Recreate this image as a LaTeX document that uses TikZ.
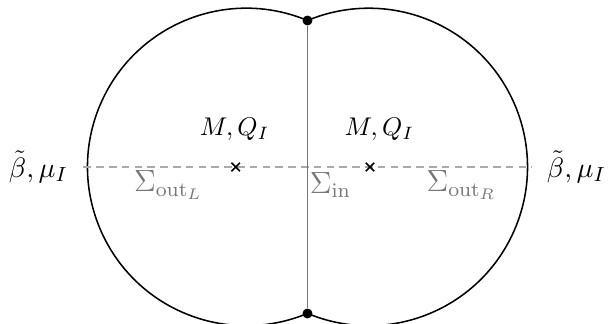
\documentclass[tikz,border=0pt]{standalone}
\usepackage{amsmath,amssymb}
\usepackage{tikz}
\usetikzlibrary{positioning,shapes.misc}
\usepackage{xcolor}
\definecolor{cutc}{RGB}{120,120,120}
\definecolor{dashc}{RGB}{170,170,170}

\begin{document}
\begin{tikzpicture}[
  x=0.3906pt, y=0.3906pt,
  bnd/.style={line width=0.6pt, draw=black},
  cut/.style={line width=0.7pt, draw=cutc},
  axisline/.style={dash pattern=on 3pt off 2pt, line width=0.6pt, draw=dashc},
  tip/.style={circle, fill=black, inner sep=0pt, minimum size=3.9pt},
  pole/.style={cross out, draw=black, line width=0.6pt, inner sep=0pt, minimum size=2.7pt},
  slab/.style={text=cutc, font=\large},
  elab/.style={font=\fontsize{11}{13}\selectfont},
]
\useasboundingbox (-307.5,-157) rectangle (307.5,167);

% ---- boundary of the two discs ----
\begin{scope}
  \clip (-307.5,-157) rectangle (307.5,167);
  \coordinate (top) at (0,146.5);
  \draw[bnd] (top) arc[start angle=67.3, end angle=292.7, radius=158.75]
    arc[start angle=247.3, end angle=472.7, radius=158.75];
\end{scope}

% ---- horizontal axis and poles ----
\coordinate (axL) at (-224.2,0);
\coordinate (axR) at (224.2,0);
\draw[axisline] (axL) -- (axR);
\node[pole] (pl) at (-71.8,0) {};
\node[pole] (pr) at (62.5,0) {};

% ---- inner cut with end points ----
\node[tip] (tt) at (0,146.5) {};
\node[tip] (tb) at (0,-146.5) {};
\draw[cut] (tt) -- (tb);

% ---- labels ----
\node[elab] (bl) at (-269,0) {$\tilde\beta,\mu_I$};
\node[elab] (br) at (269,0) {$\tilde\beta,\mu_I$};
\node (ml) at (-72.8,38) {$M,Q_I$};
\node (mr) at (71.8,38) {$M,Q_I$};
\node[slab] (sl) at (-139,-18) {$\Sigma_{\mathrm{out}_L}$};
\node[slab] (si) at (23,-18) {$\Sigma_{\mathrm{in}}$};
\node[slab] (sr) at (154,-18) {$\Sigma_{\mathrm{out}_R}$};

\end{tikzpicture}
\end{document}
